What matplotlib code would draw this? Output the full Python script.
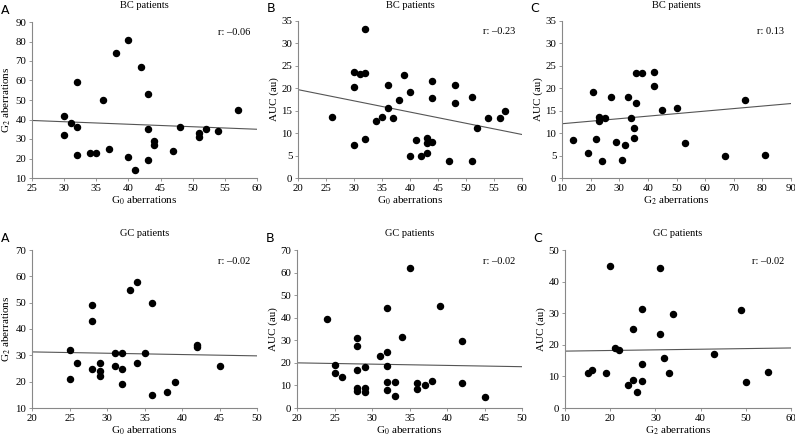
import numpy as np
import matplotlib
matplotlib.use("Agg")
import matplotlib.pyplot as plt

plt.rcParams['font.family'] = ['Liberation Serif', 'DejaVu Serif']
plt.rcParams['mathtext.fontset'] = 'stix'

# BC patients, A: G0 vs G2
bc_a_x = [30, 30, 31, 32, 32, 32, 34, 35, 36, 37, 38, 40, 40, 41, 42, 43, 43, 43, 44, 44, 47, 48, 51, 51, 52, 54, 57]
bc_a_y = [42, 32, 38, 59, 36, 22, 23, 23, 50, 25, 74, 81, 21, 14, 67, 53, 35, 19, 29, 27, 24, 36, 33, 31, 35, 34, 45]
bc_a_fit = [39.5, 35.0]

# BC patients, B: G0 vs AUC
bc_b_x = [26, 30, 30, 30, 31, 32, 32, 32, 34, 35, 36, 36, 37, 38, 39, 40, 40, 41, 42, 43, 43, 43, 44, 44, 44,
          47, 48, 48, 51, 51, 52, 54, 56, 57]
bc_b_y = [13.7, 23.6, 20.3, 7.3, 23.2, 33.2, 23.4, 8.7, 12.6, 13.6, 20.8, 15.6, 13.4, 17.4, 22.9, 19.1, 5.0, 8.4,
          4.9, 9.0, 7.7, 5.6, 21.7, 17.9, 8.0, 3.8, 20.7, 16.8, 18.0, 3.9, 11.2, 13.3, 13.4, 14.9]
bc_b_fit = [19.7, 9.7]

# BC patients, C: G2 vs AUC
bc_c_x = [14, 19, 21, 22, 23, 23, 24, 25, 27, 29, 31, 32, 33, 34, 35, 35, 36, 36, 38, 42, 42, 45, 50, 53, 67, 74, 81]
bc_c_y = [8.4, 5.6, 19.2, 8.8, 13.7, 12.6, 3.8, 13.3, 18.0, 8.0, 4.0, 7.3, 18.1, 13.4, 11.2, 9.0, 23.5, 16.8,
          23.3, 23.6, 20.4, 15.1, 15.7, 7.8, 4.9, 17.5, 5.1]
bc_c_fit = [12.1, 16.6]

# GC patients, A: G0 vs G2
gc_a_x = [25, 25, 26, 28, 28, 28, 29, 29, 29, 31, 31, 32, 32, 32, 33, 34, 34, 35, 36, 36, 38, 39, 42, 42, 45]
gc_a_y = [32, 21, 27, 49, 43, 25, 27, 24, 22, 31, 26, 31, 25, 19, 55, 58, 27, 31, 50, 15, 16, 20, 34, 33, 26]
gc_a_fit = [31.3, 29.8]

# GC patients, B: G0 vs AUC
gc_b_x = [24, 25, 25, 26, 28, 28, 28, 28, 28, 29, 29, 29, 31, 32, 32, 32, 32, 32, 33, 33, 34, 35, 36, 36, 37,
          38, 39, 42, 42, 45]
gc_b_y = [39.5, 19, 15.7, 13.8, 31, 27.5, 17, 9, 7.5, 18.2, 9, 7.3, 23.2, 44.2, 24.8, 18.5, 11.3, 8, 11.5, 5.5,
          31.3, 62, 11, 8.2, 10, 12, 45.2, 29.5, 11.2, 5]
gc_b_fit = [20.0, 18.3]

# GC patients, C: G2 vs AUC
gc_c_x = [15, 16, 19, 20, 21, 22, 24, 25, 25, 26, 27, 27, 27, 31, 31, 32, 33, 34, 43, 49, 50, 55]
gc_c_y = [11, 12, 11, 45, 19, 18.2, 7.2, 25, 8.8, 5, 31.2, 13.8, 8.7, 44.2, 23.3, 15.7, 11, 29.7, 17, 31, 8.2, 11.5]
gc_c_fit = [18.0, 19.0]

g0 = 'G$_0$ aberrations'
g2 = 'G$_2$ aberrations'
auc = 'AUC (au)'

panels = [
    # data, fit, xlim, ylim, xstep, ystep, xlabel, ylabel, title, letter, r, axes rect (px)
    (bc_a_x, bc_a_y, bc_a_fit, (25, 60), (10, 90), 5, 10, g0, g2, 'BC patients', 'A', 'r: \u20130.06', (32, 22, 257, 178)),
    (bc_b_x, bc_b_y, bc_b_fit, (20, 60), (0, 35), 5, 5, g0, auc, 'BC patients', 'B', 'r: \u20130.23', (298, 21, 522, 178)),
    (bc_c_x, bc_c_y, bc_c_fit, (10, 90), (0, 35), 10, 5, g2, auc, 'BC patients', 'C', 'r: 0.13', (562, 21, 791, 178)),
    (gc_a_x, gc_a_y, gc_a_fit, (20, 50), (10, 70), 5, 10, g0, g2, 'GC patients', 'A', 'r: \u20130.02', (32, 250, 257, 408)),
    (gc_b_x, gc_b_y, gc_b_fit, (20, 50), (0, 70), 5, 10, g0, auc, 'GC patients', 'B', 'r: \u20130.02', (297, 250, 522, 408)),
    (gc_c_x, gc_c_y, gc_c_fit, (10, 60), (0, 50), 10, 10, g2, auc, 'GC patients', 'C', 'r: \u20130.02', (565, 250, 791, 408)),
]

W, H = 795, 437
fig = plt.figure(figsize=(W / 100, H / 100), dpi=100)

for x, y, fit, xl, yl, xs, ys, xlab, ylab, title, letter, rtxt, (x0, y0, x1, y1) in panels:
    ax = fig.add_axes([x0 / W, 1 - y1 / H, (x1 - x0) / W, (y1 - y0) / H])
    ax.scatter(x, y, s=19, c='black', zorder=3, clip_on=False)
    ax.plot(xl, fit, color='#555555', lw=0.8)
    ax.set_xlim(*xl)
    ax.set_ylim(*yl)
    ax.set_xticks(np.arange(xl[0], xl[1] + 0.1, xs))
    ax.set_yticks(np.arange(yl[0], yl[1] + 0.1, ys))
    for s in ['top', 'right']:
        ax.spines[s].set_visible(False)
    for s in ['left', 'bottom']:
        ax.spines[s].set_color('#888888')
        ax.spines[s].set_linewidth(0.8)
    ax.tick_params(direction='out', length=2.5, width=0.6, color='#888888', labelsize=7.8, pad=1.5)
    ax.set_xlabel(xlab, fontsize=8, labelpad=1.5)
    ax.set_ylabel(ylab, fontsize=8, labelpad=1.5)
    ax.text(0.5, 1 + 16 / (y1 - y0), title, transform=ax.transAxes, ha='center', va='center', fontsize=7.5)
    ax.text(0.97, 0.93, rtxt, transform=ax.transAxes, ha='right', va='center', fontsize=7.5)
    fig.text((x0 - 27) / W, 1 - (y0 - 12) / H, letter, ha='center', va='center', fontsize=9,
             family='DejaVu Sans')

fig.savefig('out.png', dpi=100)
